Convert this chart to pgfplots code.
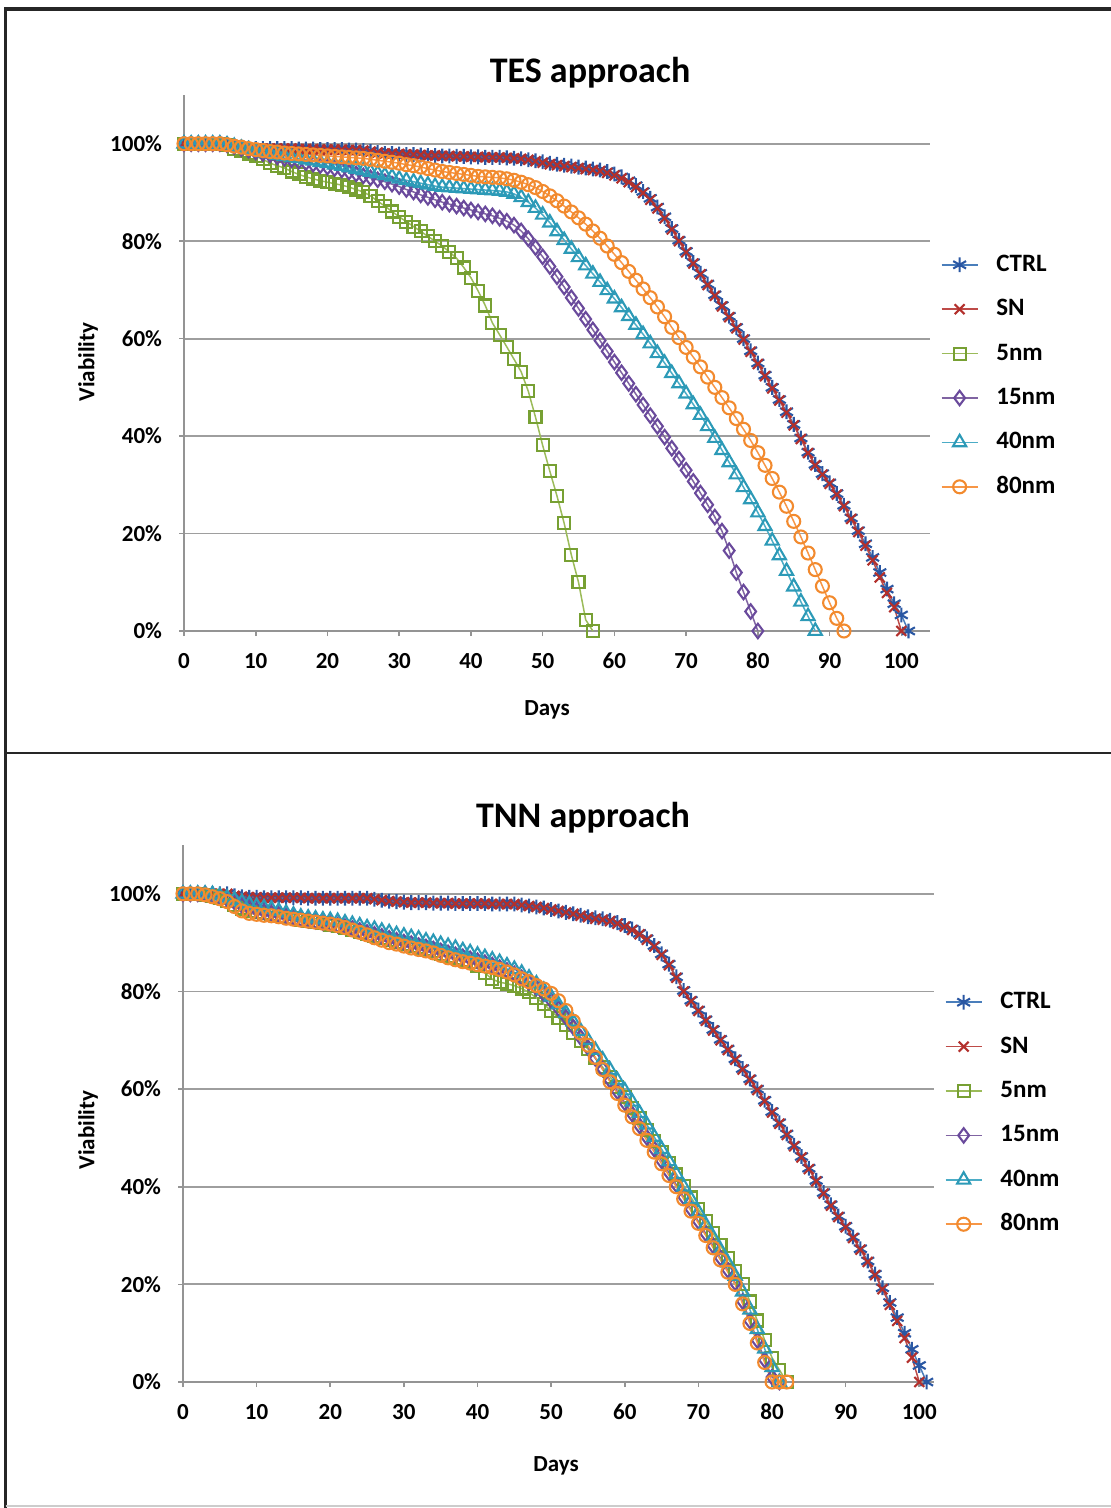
\documentclass[border=0pt]{standalone}
\usepackage{fontspec}
\setmainfont{Carlito}
\usepackage{pgfplots}
\pgfplotsset{compat=1.18}
\usepackage{pgfplotstable}

% marker / line colours (Excel 2007 palette)
\definecolor{ctrlm}{HTML}{2A57A3}\definecolor{ctrll}{HTML}{4A7EBB}
\definecolor{snm}{HTML}{B3302C}\definecolor{snl}{HTML}{BE4B48}
\definecolor{n5m}{HTML}{77A033}\definecolor{n5l}{HTML}{9BBB59}
\definecolor{n15m}{HTML}{6A4A9C}\definecolor{n15l}{HTML}{8064A2}
\definecolor{n40m}{HTML}{2C9AB7}\definecolor{n40l}{HTML}{4BACC6}
\definecolor{n80m}{HTML}{F28A2E}\definecolor{n80l}{HTML}{F79646}

\pgfplotstableread{
d ctrl sn n5 n15 n40 n80
0 100 100 100 100 100 100
1 100 100 100 100 100 100
2 100 100 100 100 100 100
3 100 100 100 100 100 100
4 100 100 100 100 100 100
5 100 100 100 100 100 100
6 100 100 99.8 99.8 99.8 99.8
7 99.6 99.6 99 99.4 99.5 99.5
8 99.3 99.3 98.5 99 99.1 99.3
9 99.1 99.1 98 98.7 98.8 99
10 99 99 97.4 98.3 98.5 98.8
11 99 99 96.8 98 98.2 98.6
12 99 99 96 97.7 98 98.4
13 99 99 95.5 97.3 97.7 98.3
14 99 99 95 97 97.5 98.1
15 99 99 94.3 96.7 97.2 98
16 98.9 98.9 93.7 96.4 97 97.9
17 98.9 98.9 93.2 96.1 96.7 97.8
18 98.9 98.9 92.8 95.8 96.5 97.7
19 98.8 98.8 92.4 95.5 96.2 97.6
20 98.8 98.8 92.1 95.2 96 97.5
21 98.8 98.8 91.8 94.9 95.7 97.4
22 98.8 98.8 91.5 94.6 95.4 97.3
23 98.7 98.7 91.1 94.2 95.1 97.2
24 98.7 98.7 90.6 93.8 94.8 97.1
25 98.6 98.6 90.1 93.4 94.5 97
26 98.4 98.4 89.3 93 94.2 96.8
27 98.2 98.2 88.2 92.6 93.9 96.6
28 98 98 87.2 92.2 93.5 96.4
29 98 98 86.1 91.7 93.2 96.2
30 97.9 97.9 85 91.2 92.8 96
31 97.8 97.8 84 90.6 92.5 95.7
32 97.8 97.8 83 90.1 92.2 95.5
33 97.7 97.7 82 89.5 91.9 95.2
34 97.6 97.6 81 89 91.6 94.9
35 97.6 97.6 80 88.5 91.3 94.6
36 97.5 97.5 79 88 91.1 94.3
37 97.5 97.5 77.8 87.6 91 94.1
38 97.4 97.4 76.5 87.2 90.9 93.9
39 97.4 97.4 74.6 86.8 90.8 93.7
40 97.3 97.3 72.5 86.4 90.7 93.5
41 97.3 97.3 69.8 86 90.6 93.3
42 97.2 97.2 66.8 85.6 90.5 93.2
43 97.2 97.2 63.2 85.2 90.4 93.1
44 97.2 97.2 60.8 84.7 90.3 93
45 97.1 97.1 58.3 84.1 90.1 92.8
46 97 97 55.8 83.3 89.7 92.5
47 96.9 96.9 53.2 82.1 89 92.1
48 96.7 96.7 49.2 80.5 88 91.6
49 96.5 96.4 43.9 78.7 86.8 91
50 96.3 96.1 38.1 76.8 85.4 90.2
51 96 95.8 32.8 74.8 83.8 89.3
52 95.8 95.6 27.7 72.7 82 88.3
53 95.6 95.4 22.1 70.6 80.2 87.2
54 95.4 95.2 15.6 68.4 78.4 86
55 95.2 95 10 66.2 76.7 84.8
56 95 94.8 2.3 64 75 83.5
57 94.8 94.6 0 61.8 73.3 82.1
58 94.6 94.4 nan 59.6 71.6 80.6
59 94.3 94 nan 57.4 69.9 79
60 93.8 93.5 nan 55.2 68.2 77.3
61 93.2 92.9 nan 53 66.4 75.6
62 92.4 92.1 nan 50.8 64.6 73.8
63 91.4 91.1 nan 48.6 62.8 72
64 90.2 89.9 nan 46.4 60.9 70.2
65 88.8 88.5 nan 44.2 59 68.4
66 87 86.7 nan 42 57 66.5
67 85 84.7 nan 39.8 55 64.5
68 82.6 82.4 nan 37.5 52.9 62.3
69 80.2 80 nan 35.3 50.8 60.2
70 77.9 77.7 nan 33 48.7 58.2
71 75.6 75.4 nan 30.7 46.5 56.2
72 73.4 73.2 nan 28.3 44.3 54.2
73 71.2 71 nan 25.9 42 52.1
74 69 68.8 nan 23.4 39.6 50
75 66.8 66.6 nan 20.5 37.1 47.9
76 64.6 64.4 nan 16.5 34.6 45.8
77 62.3 62.1 nan 12 32.1 43.6
78 60 59.8 nan 8 29.5 41.4
79 57.5 57.3 nan 4 27 39.1
80 55 54.8 nan 0 24.3 36.6
81 52.5 52.3 nan nan 21.5 34
82 50 49.8 nan nan 18.5 31.3
83 47.5 47.3 nan nan 15.5 28.5
84 45 44.8 nan nan 12.3 25.6
85 42.4 42.2 nan nan 9.1 22.5
86 39.6 39.4 nan nan 6 19.3
87 36.7 36.5 nan nan 3 16
88 34.2 34 nan nan 0 12.6
89 32.3 32.1 nan nan nan 9.2
90 30.4 30.2 nan nan nan 5.8
91 28.2 28 nan nan nan 2.6
92 25.8 25.6 nan nan nan 0
93 23.2 23 nan nan nan nan
94 20.6 20.3 nan nan nan nan
95 17.9 17.5 nan nan nan nan
96 15.1 14.5 nan nan nan nan
97 12 11 nan nan nan nan
98 8.6 7.8 nan nan nan nan
99 5.6 4.9 nan nan nan nan
100 3.3 0 nan nan nan nan
101 0 nan nan nan nan nan
}\tes

\pgfplotstableread{
d ctrl sn n5 n15 n40 n80
0 100 100 100 100 100 100
1 100 100 100 100 100 100
2 100 100 100 100 100 100
3 100 100 99.8 100 100 99.8
4 100 100 99.5 99.8 99.9 99.4
5 100 100 99.1 99.4 99.6 99
6 100 100 98.6 98.9 99.2 98.4
7 99.6 99.6 97.8 98.3 98.8 97.4
8 99.4 99.4 97 97.6 98.3 96.5
9 99.3 99.3 96.5 97.1 97.9 96
10 99.3 99.3 96.2 96.7 97.5 95.8
11 99.2 99.2 96 96.4 97.2 95.6
12 99.2 99.2 95.8 96.1 96.9 95.5
13 99.2 99.2 95.5 95.8 96.5 95.3
14 99.2 99.2 95.2 95.5 96.1 95
15 99.2 99.2 95 95.2 95.7 94.8
16 99.2 99.2 94.7 94.9 95.3 94.6
17 99.1 99.1 94.5 94.6 95.1 94.4
18 99.1 99.1 94.2 94.4 94.9 94.2
19 99.1 99.1 94 94.1 94.7 94
20 99.1 99.1 93.7 93.9 94.6 93.8
21 99.1 99.1 93.4 93.6 94.4 93.5
22 99.1 99.1 93 93.3 94.1 93.1
23 99.1 99.1 92.6 92.9 93.8 92.6
24 99.1 99.1 92.2 92.5 93.5 92.1
25 99.1 99.1 91.8 92.1 93.1 91.6
26 98.9 98.9 91.4 91.7 92.8 91
27 98.7 98.7 91 91.3 92.4 90.5
28 98.5 98.5 90.6 90.9 92.1 90
29 98.4 98.4 90.2 90.5 91.7 89.7
30 98.3 98.3 89.8 90.1 91.4 89.3
31 98.2 98.2 89.4 89.8 91.1 88.9
32 98.2 98.2 89 89.4 90.8 88.6
33 98.2 98.2 88.6 89.1 90.4 88.3
34 98.1 98.1 88.2 88.7 90.1 87.9
35 98.1 98.1 87.7 88.3 89.7 87.4
36 98.1 98.1 87.2 87.9 89.3 86.9
37 98 98 86.8 87.5 88.9 86.5
38 98 98 86.4 87.1 88.4 86.1
39 98 98 86 86.7 88 85.8
40 98 98 85.2 86.3 87.5 85.5
41 98 98 83.8 85.9 87 85.2
42 97.9 97.9 82.5 85.4 86.5 84.9
43 97.9 97.9 81.9 84.9 86 84.5
44 97.9 97.9 81.6 84.3 85.3 84
45 97.9 97.9 81.2 83.6 84.6 83.4
46 97.7 97.7 80.6 82.8 83.8 82.6
47 97.5 97.5 79.8 81.8 82.8 82
48 97.3 97.3 78.7 80.7 81.6 81.2
49 97.1 97.1 77.4 79.5 80.3 80.5
50 96.8 96.8 76 78.1 78.9 79.6
51 96.5 96.5 74.6 76.5 77.3 78.1
52 96.2 96.2 73.1 74.7 75.6 76.1
53 95.9 95.9 71.5 72.7 73.8 73.9
54 95.6 95.5 69.9 70.6 71.9 71.5
55 95.3 95.2 68.2 68.5 70 69
56 95.1 94.9 66.4 66.3 68 66.5
57 94.9 94.7 64.5 64.1 66 64
58 94.6 94.4 62.5 61.8 63.9 61.5
59 94.1 93.9 60.5 59.5 61.8 59.1
60 93.5 93.3 58.4 57.2 59.7 56.7
61 92.8 92.6 56.2 54.9 57.4 54.3
62 91.9 91.7 54 52.5 55.1 51.9
63 90.8 90.6 51.7 50.1 52.7 49.5
64 89.4 89.2 49.4 47.7 50.2 47.1
65 87.7 87.5 47.1 45.3 47.7 44.7
66 85.6 85.4 44.8 42.9 45.2 42.3
67 83 82.8 42.5 40.4 42.6 40
68 80.2 80 40.2 37.9 40 37.5
69 78.2 78 37.8 35.4 37.4 35
70 76.2 76 35.4 32.9 34.8 32.5
71 74.2 74 33 30.4 32.2 30
72 72.2 72 30.5 27.9 29.6 27.5
73 70.2 70 28 25.4 27 25
74 68.2 68 25.4 22.9 24.4 22.5
75 66.2 66 22.8 20.3 21.7 20
76 64.2 64 20.1 16.5 18.5 16
77 62.1 61.9 16.5 12.5 14.8 12
78 60 59.8 12.6 8.5 10.8 8
79 57.7 57.5 8.6 4.5 6.8 4
80 55.4 55.2 5 1 3 0
81 53.1 52.9 2.5 0 0 0
82 50.8 50.6 0 nan nan 0
83 48.5 48.3 nan nan nan nan
84 46.2 46 nan nan nan nan
85 43.8 43.6 nan nan nan nan
86 41.3 41.1 nan nan nan nan
87 38.8 38.6 nan nan nan nan
88 36.3 36.1 nan nan nan nan
89 34 33.8 nan nan nan nan
90 31.9 31.7 nan nan nan nan
91 29.7 29.5 nan nan nan nan
92 27.3 27.1 nan nan nan nan
93 24.8 24.6 nan nan nan nan
94 22.1 21.9 nan nan nan nan
95 19.3 19 nan nan nan nan
96 16.3 15.8 nan nan nan nan
97 13.2 12.5 nan nan nan nan
98 10 9 nan nan nan nan
99 6.7 5 nan nan nan nan
100 3.4 0 nan nan nan nan
101 0 nan nan nan nan nan
}\tnn

\pgfplotsset{
  viab/.style={
    scale only axis,
    anchor=south west,
    ymin=0, ymax=110,
    ytick={0,20,...,100},
    yticklabel={\pgfmathprintnumber{\tick}\%},
    xtick={0,10,...,100},
    axis lines*=left,
    axis line style={draw=black!42, line width=0.9pt},
    ymajorgrids,
    grid style={black!38, line width=0.9pt},
    tick align=outside,
    major tick length=2.5pt,
    tick style={draw=black!42, line width=0.8pt},
    tick label style={font=\bfseries\fontsize{11.5}{13}\selectfont},
    yticklabel style={xshift=-5pt},
    xticklabel style={yshift=-5pt},
    /pgf/number format/assume math mode=true,
    clip=false,
    legend cell align=left,
    legend style={draw=none, fill=none, anchor=north west,
      font=\bfseries\fontsize{12.5}{14}\selectfont,
      row sep=11.7pt, column sep=9pt,
      nodes={inner sep=0pt, text height=8.5pt, text depth=2pt}},
    legend image code/.code={
      \draw[mark repeat=2,mark phase=2] plot coordinates {(0pt,0pt) (9pt,0pt) (18pt,0pt)};},
  },
  sctrl/.style={ctrll, line width=0.75pt, mark=asterisk, mark size=3.7pt,
    mark options={ctrlm, line width=1.05pt}},
  ssn/.style={snl, line width=0.75pt, mark=x, mark size=3.5pt,
    mark options={snm, line width=1.05pt}},
  s5/.style={n5l, line width=0.75pt, mark=square, mark size=3pt,
    mark options={n5m, line width=1.05pt}},
  s15/.style={n15l, line width=0.75pt, mark=diamond, mark size=3.6pt,
    mark options={n15m, line width=1.05pt}},
  s40/.style={n40l, line width=0.75pt, mark=triangle, mark size=3.8pt,
    mark options={n40m, line width=1.05pt}},
  s80/.style={n80l, line width=0.75pt, mark=o, mark size=3.25pt,
    mark options={n80m, line width=1.05pt}},
}

\begin{document}
\begin{tikzpicture}
\path[use as bounding box] (0pt,0pt) rectangle (555.5pt,-754pt);
% panel frames
\draw[line width=1.6pt, black!85] (2.75pt,-754pt) -- (2.75pt,-4.5pt) -- (555.5pt,-4.5pt);
\draw[line width=1.3pt, black!85] (2.75pt,-376.5pt) -- (555.5pt,-376.5pt);
\draw[line width=0.8pt, black!20] (2.75pt,-753pt) -- (555.5pt,-753pt);

% ---------- TES approach ----------
\begin{axis}[viab, at={(92pt,-315.5pt)}, width=373pt, height=268pt,
  xmin=0, xmax=104,
  legend style={at={(1.006,0.711)}}]
\addplot[sctrl] table[x=d, y=ctrl] {\tes};
\addplot[ssn] table[x=d, y=sn] {\tes};
\addplot[s5] table[x=d, y=n5] {\tes};
\addplot[s15] table[x=d, y=n15] {\tes};
\addplot[s40] table[x=d, y=n40] {\tes};
\addplot[s80] table[x=d, y=n80] {\tes};
\legend{CTRL, SN, 5nm, 15nm, 40nm, 80nm}
\end{axis}
\node[font=\bfseries\fontsize{18}{20}\selectfont] at (295pt,-36.5pt) {TES approach};
\node[font=\bfseries\fontsize{11.5}{13}\selectfont] at (273.5pt,-355pt) {Days};
\node[font=\bfseries\fontsize{11.5}{13}\selectfont, rotate=90] at (44pt,-181pt) {Viability};

% ---------- TNN approach ----------
\begin{axis}[viab, at={(91.5pt,-691pt)}, width=375.5pt, height=268.5pt,
  xmin=0, xmax=102,
  legend style={at={(1.006,0.735)}}]
\addplot[sctrl] table[x=d, y=ctrl] {\tnn};
\addplot[ssn] table[x=d, y=sn] {\tnn};
\addplot[s5] table[x=d, y=n5] {\tnn};
\addplot[s15] table[x=d, y=n15] {\tnn};
\addplot[s40] table[x=d, y=n40] {\tnn};
\addplot[s80] table[x=d, y=n80] {\tnn};
\legend{CTRL, SN, 5nm, 15nm, 40nm, 80nm}
\end{axis}
\node[font=\bfseries\fontsize{18}{20}\selectfont] at (291.5pt,-409pt) {TNN approach};
\node[font=\bfseries\fontsize{11.5}{13}\selectfont] at (278pt,-733pt) {Days};
\node[font=\bfseries\fontsize{11.5}{13}\selectfont, rotate=90] at (44pt,-565pt) {Viability};
\end{tikzpicture}
\end{document}
